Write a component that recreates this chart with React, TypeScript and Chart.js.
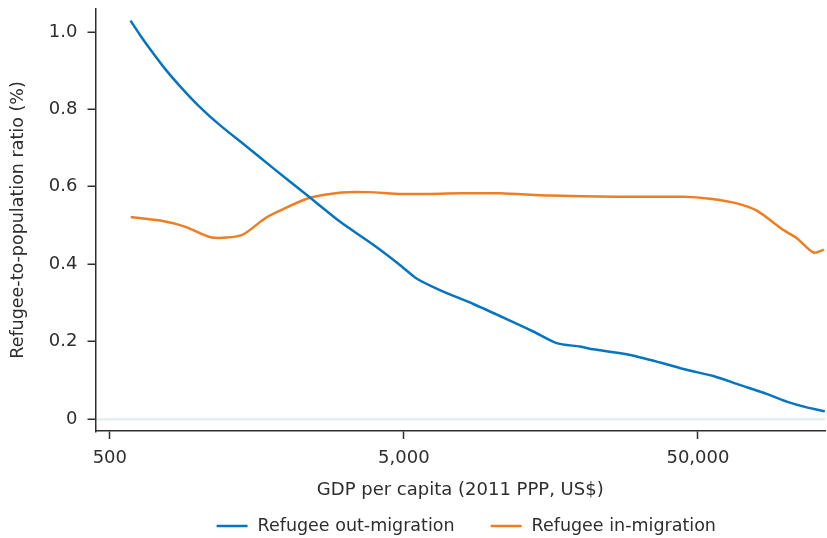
import React, { useEffect, useRef } from "react";
import { Chart, registerables } from "chart.js";

Chart.register(...registerables);

// GDP per capita (2011 PPP, US$) and refugee-to-population ratio (%)
const outGdp = [588, 636, 698, 773, 870, 1002, 1184, 1458, 1796, 2333, 3027, 3935, 4846, 5521, 6627, 8612, 11180, 13770, 16530, 19850, 22050, 28600, 37130, 45750, 56360, 69440, 85580, 100200, 117200, 135000];
const outRatio = [1.029, 0.99, 0.947, 0.903, 0.858, 0.809, 0.759, 0.704, 0.648, 0.579, 0.51, 0.45, 0.398, 0.363, 0.333, 0.297, 0.258, 0.226, 0.196, 0.187, 0.18, 0.167, 0.146, 0.127, 0.111, 0.088, 0.065, 0.045, 0.03, 0.02];

const inGdp = [589, 750, 899, 1109, 1403, 1683, 1918, 2366, 3070, 3785, 4913, 7850, 10620, 15710, 26450, 44540, 54960, 67770, 79270, 97600, 108400, 123400, 134000];
const inRatio = [0.522, 0.512, 0.497, 0.469, 0.475, 0.518, 0.54, 0.57, 0.585, 0.586, 0.581, 0.583, 0.583, 0.577, 0.574, 0.574, 0.569, 0.557, 0.538, 0.488, 0.467, 0.43, 0.437];

const xTickValues = [500, 5000, 50000];
const xTickLabels = ["500", "5,000", "50,000"];
const yTickValues = [0, 0.2, 0.4, 0.6, 0.8, 1.0];
const yTickLabels = ["0", "0.2", "0.4", "0.6", "0.8", "1.0"];

const seriesLabels = ["Refugee out-migration", "Refugee in-migration"];
const seriesColors = ["#0675c0", "#ef7d22"];

const xTitle = "GDP per capita (2011 PPP, US$)";
const yTitle = "Refugee-to-population ratio (%)";

const FONT = "'DejaVu Sans', sans-serif";
const TEXT = "#2e2e2e";

const bottomLegend = {
  id: "bottomLegend",
  afterDraw(chart: any) {
    const ctx = chart.ctx;
    const area = chart.chartArea;
    ctx.save();
    ctx.font = `17.5px ${FONT}`;
    const lineLen = 31;
    const gapText = 10;
    const gapItem = 36;
    const items = chart.data.datasets.map((ds: any) => ({
      label: ds.label,
      color: ds.borderColor,
      w: ctx.measureText(ds.label).width,
    }));
    const total =
      items.reduce((s: number, it: any) => s + lineLen + gapText + it.w, 0) +
      gapItem * (items.length - 1);
    let x = (area.left + area.right) / 2 + 6 - total / 2;
    const y = 526;
    for (const it of items) {
      ctx.strokeStyle = it.color;
      ctx.lineWidth = 2.5;
      ctx.beginPath();
      ctx.moveTo(x, y);
      ctx.lineTo(x + lineLen, y);
      ctx.stroke();
      ctx.fillStyle = TEXT;
      ctx.textBaseline = "middle";
      ctx.textAlign = "left";
      ctx.fillText(it.label, x + lineLen + gapText, y);
      x += lineLen + gapText + it.w + gapItem;
    }
    ctx.restore();
  },
};

export default function App() {
  const canvasRef = useRef<HTMLCanvasElement | null>(null);

  useEffect(() => {
    if (!canvasRef.current) return;
    const chart = new Chart(canvasRef.current, {
      type: "line",
      data: {
        datasets: [
          {
            label: seriesLabels[0],
            data: outGdp.map((g, i) => ({ x: g, y: outRatio[i] })),
            borderColor: seriesColors[0],
            backgroundColor: seriesColors[0],
            borderWidth: 2.5,
            pointRadius: 0,
            tension: 0.25,
          },
          {
            label: seriesLabels[1],
            data: inGdp.map((g, i) => ({ x: g, y: inRatio[i] })),
            borderColor: seriesColors[1],
            backgroundColor: seriesColors[1],
            borderWidth: 2.5,
            pointRadius: 0,
            tension: 0.25,
          },
        ],
      },
      options: {
        animation: false,
        responsive: false,
        devicePixelRatio: 1,
        layout: { padding: { top: 9, right: 2, bottom: 0, left: 0 } },
        plugins: {
          legend: { display: false },
          tooltip: { enabled: false },
        },
        scales: {
          x: {
            type: "logarithmic",
            position: "bottom",
            min: 447,
            max: 135200,
            afterBuildTicks: (s: any) => {
              s.ticks = xTickValues.map((v) => ({ value: v }));
            },
            afterFit: (s: any) => {
              s.height = 107;
              s.paddingLeft = 0;
              s.paddingRight = 0;
            },
            ticks: {
              autoSkip: false,
              maxRotation: 0,
              padding: 9,
              color: TEXT,
              font: { family: FONT, size: 18 },
              callback: (_v: any, i: number) => xTickLabels[i],
            },
            grid: {
              drawOnChartArea: false,
              drawTicks: true,
              tickLength: 8,
              tickColor: TEXT,
              tickWidth: 1.5,
              color: "rgba(0,0,0,0)",
            },
            border: { display: true, color: TEXT, width: 1.5 },
            title: {
              display: true,
              text: xTitle,
              color: TEXT,
              font: { family: FONT, size: 18 },
              padding: { top: 0, bottom: 37 },
            },
          },
          y: {
            type: "linear",
            min: -0.031,
            max: 1.059,
            afterBuildTicks: (s: any) => {
              s.ticks = yTickValues.map((v) => ({ value: v }));
            },
            afterFit: (s: any) => {
              s.width = 95.5;
              s.paddingTop = 0;
              s.paddingBottom = 0;
            },
            ticks: {
              padding: 10,
              color: TEXT,
              font: { family: FONT, size: 18 },
              callback: (_v: any, i: number) => yTickLabels[i],
            },
            grid: {
              drawTicks: true,
              tickLength: 8,
              tickColor: TEXT,
              tickWidth: 1.5,
              lineWidth: 2.5,
              color: (c: any) =>
                c.tick && c.tick.value === 0 ? "#e5eff0" : "rgba(0,0,0,0)",
            },
            border: { display: true, color: TEXT, width: 1.5 },
            title: {
              display: true,
              text: yTitle,
              color: TEXT,
              font: { family: FONT, size: 17.5 },
              padding: { top: 7.5, bottom: 0 },
            },
          },
        },
      },
      plugins: [bottomLegend],
    } as any);
    return () => chart.destroy();
  }, []);

  return (
    <div
      style={{
        position: "fixed",
        left: 0,
        top: 0,
        width: 827,
        height: 538,
        background: "#ffffff",
      }}
    >
      <canvas
        ref={canvasRef}
        width={827}
        height={538}
        style={{ display: "block", width: 827, height: 538 }}
      />
    </div>
  );
}
